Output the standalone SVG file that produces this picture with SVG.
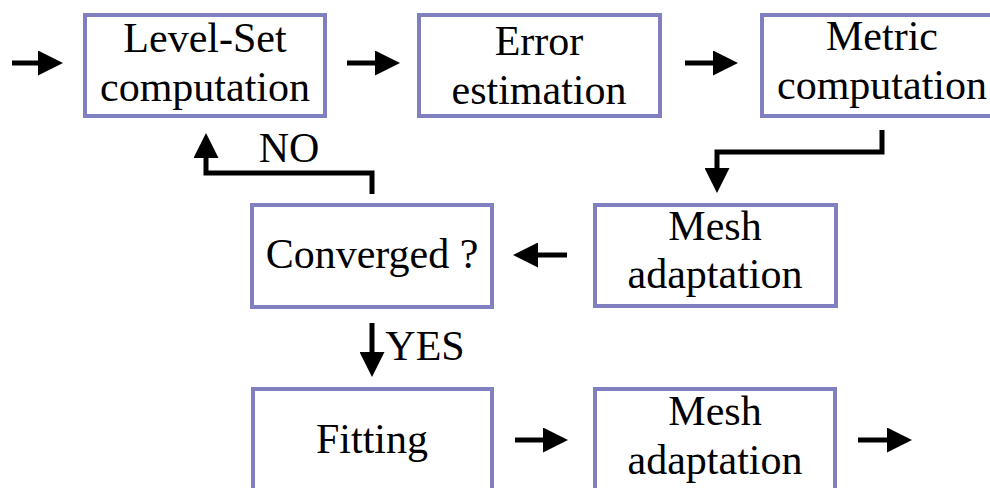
<svg xmlns="http://www.w3.org/2000/svg" width="990" height="488" viewBox="0 0 990 488">
<defs>
<style>
.box{fill:#ffffff;stroke:#8080c0;stroke-width:4}
.t{font-family:"Liberation Serif","Times New Roman",Times,serif;font-size:42px;fill:#000;text-anchor:middle}
.c{fill:none;stroke:#000;stroke-width:5;stroke-linejoin:miter;marker-end:url(#ah)}
</style>
<marker id="ah" markerUnits="userSpaceOnUse" viewBox="0 0 25 25" markerWidth="25" markerHeight="25" refX="1" refY="12.5" orient="auto">
<path d="M0,0 L25,12.5 L0,25 Z" fill="#000"/>
</marker>
</defs>
<rect width="990" height="488" fill="#fff"/>
<g id="n1"><rect class="box" x="85" y="15" width="240" height="101"/><text class="t" x="205" y="52">Level-Set</text><text class="t" x="205" y="101">computation</text></g>
<g id="n2"><rect class="box" x="419" y="15" width="241" height="101"/><text class="t" x="539" y="55">Error</text><text class="t" x="539" y="104">estimation</text></g>
<g id="n3"><rect class="box" x="762" y="15" width="245" height="101"/><text class="t" x="882" y="50">Metric</text><text class="t" x="882" y="99">computation</text></g>
<g id="n4"><rect class="box" x="595" y="205" width="241" height="101"/><text class="t" x="715" y="240">Mesh</text><text class="t" x="715" y="288">adaptation</text></g>
<g id="n5"><rect class="box" x="252" y="205" width="240" height="102"/><text class="t" x="372" y="268">Converged ?</text></g>
<g id="n6"><rect class="box" x="253" y="389" width="239" height="120"/><text class="t" x="372" y="453">Fitting</text></g>
<g id="n7"><rect class="box" x="595" y="389" width="240" height="120"/><text class="t" x="715" y="425">Mesh</text><text class="t" x="715" y="474">adaptation</text></g>
<g id="connectors">
<path class="c" d="M12,63 H39"/>
<path class="c" d="M347,63 H376"/>
<path class="c" d="M685,63 H714"/>
<path class="c" d="M882,130 V152 H717 V169"/>
<path class="c" d="M567,255 H537"/>
<path class="c" d="M372,194 V173 H206 V157"/>
<path class="c" d="M372,323 V353"/>
<path class="c" d="M515,440 H544"/>
<path class="c" d="M858,440 H888"/>
<text class="t" x="289" y="162">NO</text>
<text class="t" x="425" y="360">YES</text>
</g>
</svg>
